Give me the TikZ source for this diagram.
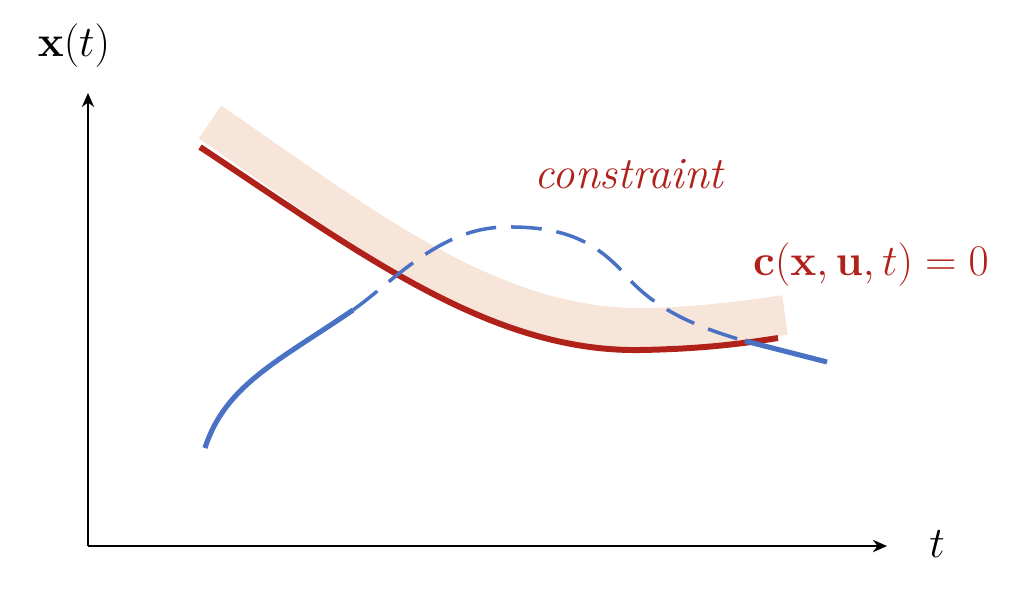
\documentclass[tikz,border=0pt]{standalone}
\usepackage{amsmath}
\usetikzlibrary{arrows.meta}
\definecolor{cred}{HTML}{B0211A}
\definecolor{cblue}{HTML}{4A72C4}
\definecolor{cband}{HTML}{F8E5D9}
\tikzset{
  axisline/.style={line width=1.4pt, -{Stealth[length=8pt,width=7pt]}},
  lbl/.style={font=\fontsize{24}{28}\selectfont, inner sep=0pt},
  bandline/.style={cband, line width=22.7pt},
  redline/.style={cred, line width=3.4pt},
  bluesolid/.style={cblue, line width=2.9pt},
  bluedash/.style={cblue, line width=2pt, dash pattern=on 17.5pt off 8.5pt},
}
\begin{document}
\begin{tikzpicture}[x=0.02cm,y=-0.02cm]
\useasboundingbox (0,0) rectangle (1032,610);
% band
\draw[bandline] (210,122) .. controls (360,225) and (490,330) .. (645,328)
  .. controls (700,327) and (750,320) .. (785,315);
% red curve
\draw[redline] (200,147) .. controls (360,253) and (490,352) .. (640,350)
  .. controls (700,349) and (740,344) .. (778,338);
% blue curve
\draw[bluesolid] (205,448) .. controls (225,385) and (280,360) .. (353,310);
\draw[bluedash] (353,310) .. controls (395,280) and (440,228) .. (505,227)
  .. controls (570,226) and (600,245) .. (630,280)
  .. controls (660,312) and (700,328) .. (745,341);
\draw[bluesolid] (745,341) -- (827,362);
% axes
\coordinate (O) at (88,546);
\coordinate (Y) at (88,93);
\coordinate (X) at (887,546);
\draw[axisline] (O) -- (Y);
\draw[axisline] (O) -- (X);
% labels
\node[lbl] (xt) at (74,46) {$\mathbf{x}(t)$};
\node[lbl] (tl) at (937,544) {$t$};
\node[lbl, text=cred, font=\fontsize{25.5}{30}\selectfont] (con) at (630,174) {\textit{constraint}};
\node[lbl, text=cred] (eq) at (871,265) {$\mathbf{c}(\mathbf{x},\mathbf{u},t)=0$};
\end{tikzpicture}
\end{document}
